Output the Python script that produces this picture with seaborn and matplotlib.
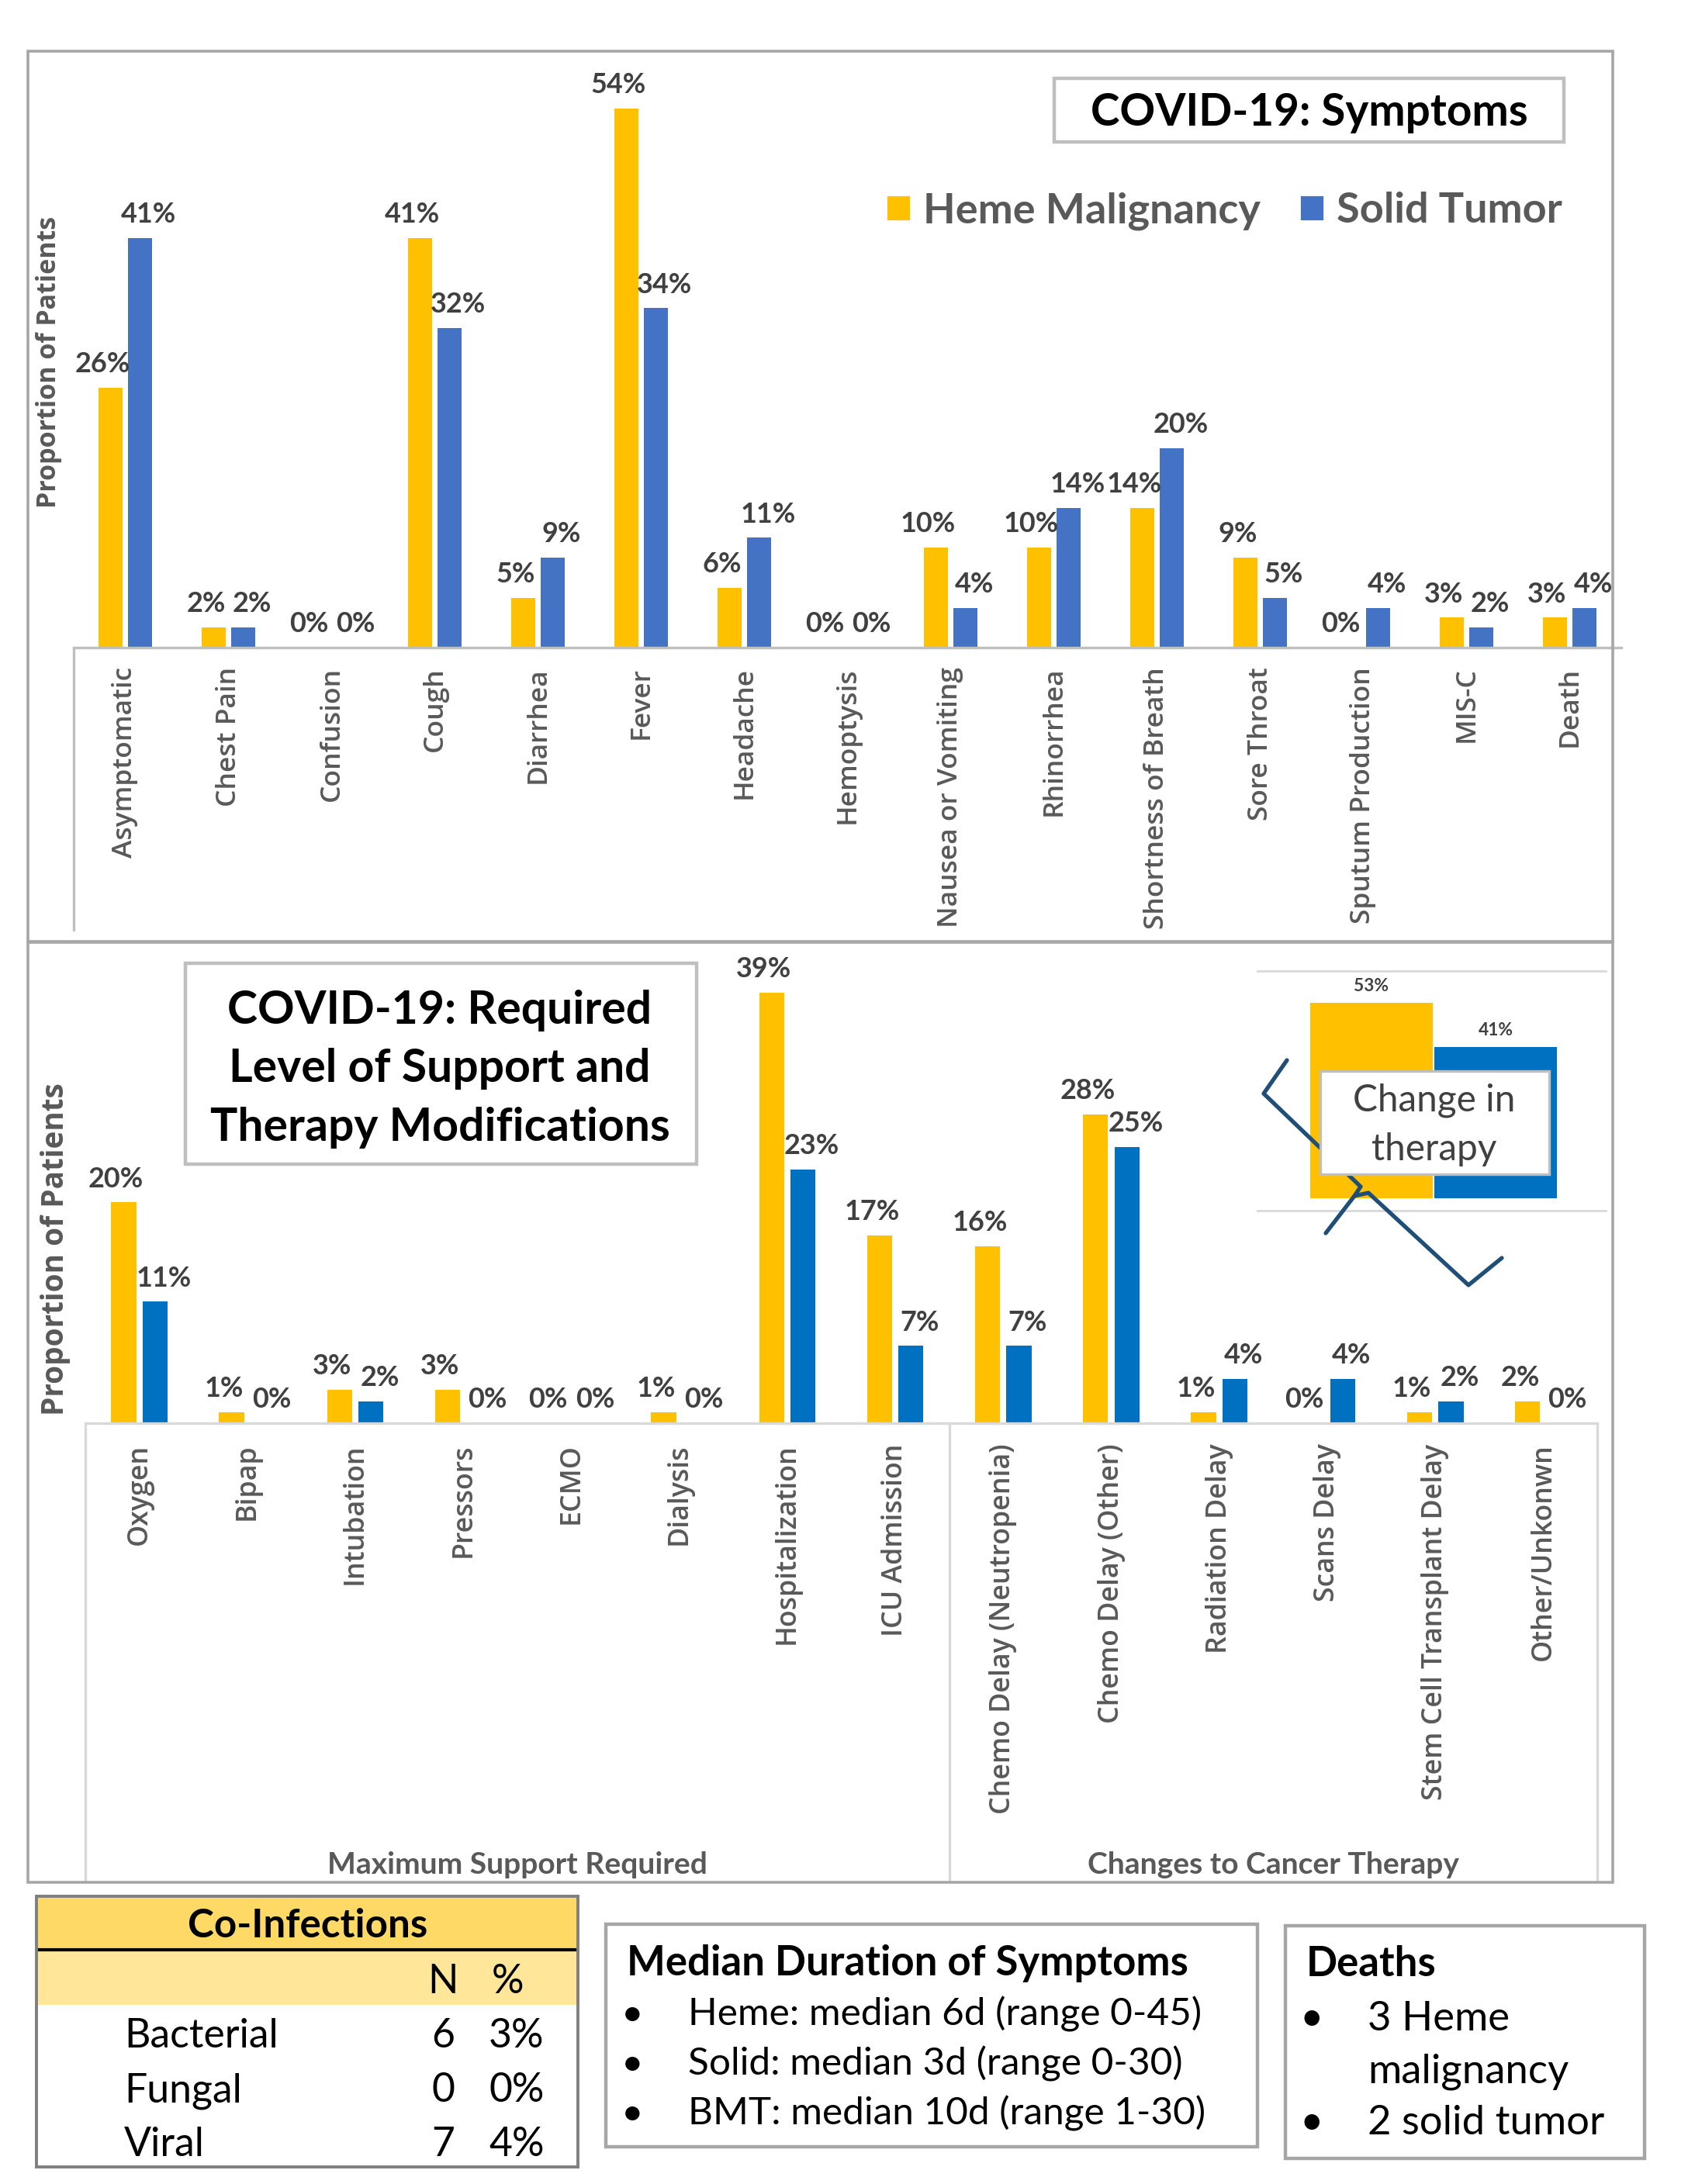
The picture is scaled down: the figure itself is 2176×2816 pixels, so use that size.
import matplotlib
matplotlib.use("Agg")
import matplotlib.pyplot as plt
from matplotlib.patches import Rectangle, Patch
from matplotlib.lines import Line2D
from matplotlib.transforms import blended_transform_factory
import seaborn as sns
import pandas as pd

# ---------------- data ----------------
symptom_categories = ["Asymptomatic", "Chest Pain", "Confusion", "Cough", "Diarrhea", "Fever",
                      "Headache", "Hemoptysis", "Nausea or Vomiting", "Rhinorrhea",
                      "Shortness of Breath", "Sore Throat", "Sputum Production", "MIS-C", "Death"]
symptom_heme = [26, 2, 0, 41, 5, 54, 6, 0, 10, 10, 14, 9, 0, 3, 3]
symptom_solid = [41, 2, 0, 32, 9, 34, 11, 0, 4, 14, 20, 5, 4, 2, 4]

support_categories = ["Oxygen", "Bipap", "Intubation", "Pressors", "ECMO", "Dialysis",
                      "Hospitalization", "ICU Admission", "Chemo Delay (Neutropenia)",
                      "Chemo Delay (Other)", "Radiation Delay", "Scans Delay",
                      "Stem Cell Transplant Delay", "Other/Unkonwn"]
support_heme = [20, 1, 3, 3, 0, 1, 39, 17, 16, 28, 1, 0, 1, 2]
support_solid = [11, 0, 2, 0, 0, 0, 23, 7, 7, 25, 4, 4, 2, 0]
support_groups = ["Maximum Support Required", "Changes to Cancer Therapy"]
support_group_sizes = [8, 6]

series_names = ["Heme Malignancy", "Solid Tumor"]
therapy_change_values = [53, 41]

coinf_types = ["Bacterial", "Fungal", "Viral"]
coinf_n = [6, 0, 7]
coinf_pct = [3, 0, 4]

duration_lines = ["Heme: median 6d (range 0-45)", "Solid: median 3d (range 0-30)",
                  "BMT: median 10d (range 1-30)"]
death_items = [["3 Heme", "malignancy"], ["2 solid tumor"]]

# ---------------- styles ----------------
YEL = "#FFC000"
BLUE_TOP = "#4472C4"
BLUE_BOT = "#0070C0"
GRAY_TXT = "#595959"
LAB_TXT = "#404040"
BORDER = "#A6A6A6"

sns.set_style("white")
plt.rcParams["font.family"] = ["Lato", "DejaVu Sans"]

W, H, DPI = 2176, 2816, 200
fig = plt.figure(figsize=(W / DPI, H / DPI), dpi=DPI)
fig.patch.set_facecolor("white")
renderer = fig.canvas.get_renderer()


def fx(x):
    return x / W


def fy(y):
    return 1 - y / H


def rect(x0, y0, x1, y1):
    return [fx(x0), fy(y1), (x1 - x0) / W, (y1 - y0) / H]


def fit(s, target, **kw):
    t = fig.text(0, 0, s, fontsize=20, **kw)
    w = t.get_window_extent(renderer).width
    t.remove()
    return 20 * target / w


def fig_line(xs, ys, color, lw, z=1):
    fig.add_artist(Line2D([fx(x) for x in xs], [fy(y) for y in ys],
                          transform=fig.transFigure, color=color, lw=lw, zorder=z,
                          solid_capstyle="butt"))


def fig_box(x0, y0, x1, y1, ec, lw, fc="none", z=1):
    fig.add_artist(Rectangle((fx(x0), fy(y1)), (x1 - x0) / W, (y1 - y0) / H,
                             transform=fig.transFigure, ec=ec, fc=fc, lw=lw, zorder=z))


# panel borders
fig_box(36, 66, 2079, 1214, BORDER, 1.3)
fig_box(36, 1215, 2079, 2427, BORDER, 1.3)

lab_fs = fit("54%", 71, family="Lato", weight="bold")
label_dx = [-3.5, 4.0]   # horizontal nudge (points) of value labels per series


def bar_chart(ax, cats, heme, solid, blue):
    df = pd.DataFrame({
        "category": cats * 2,
        "value": [v / 100 for v in heme] + [v / 100 for v in solid],
        "group": [series_names[0]] * len(cats) + [series_names[1]] * len(cats),
    })
    sns.barplot(data=df, x="category", y="value", hue="group", order=cats,
                hue_order=series_names, palette=[YEL, blue], width=0.58, gap=0.2,
                errorbar=None, legend=False, ax=ax, linewidth=0, saturation=1)
    for c, dx in zip(ax.containers, label_dx):
        anns = ax.bar_label(c, labels=[f"{round(v * 100)}%" for v in c.datavalues],
                            padding=5, fontsize=lab_fs, fontweight="bold", color=LAB_TXT,
                            family="Lato")
        for a in anns:
            a.xyann = (dx, a.xyann[1])
    ax.set_xlabel("")
    ax.set_ylabel("")
    ax.set_yticks([])
    ax.patch.set_visible(False)
    for s in ["top", "right", "left"]:
        ax.spines[s].set_visible(False)
    ax.spines["bottom"].set_color("#BFBFBF")
    ax.spines["bottom"].set_linewidth(1.2)
    ax.set_xlim(-0.5, len(cats) - 0.5)


# ---------------- top chart ----------------
ax1 = fig.add_axes(rect(95, 70, 2090, 835))
bar_chart(ax1, symptom_categories, symptom_heme, symptom_solid, BLUE_TOP)
ax1.set_ylim(0, 765 / 1287)
tick_fs1 = fit("Nausea or Vomiting", 336, family="Open Sans", weight="semibold")
ax1.tick_params(axis="x", length=0, pad=9.0)
for lbl in ax1.get_xticklabels():
    lbl.set_rotation(90)
    lbl.set_fontsize(tick_fs1)
    lbl.set_family("Open Sans")
    lbl.set_fontweight("semibold")
    lbl.set_color(GRAY_TXT)
    lbl.set_va("top")
tr1 = blended_transform_factory(ax1.transData, fig.transFigure)
ax1.add_line(Line2D([-0.5, -0.5], [fy(835), fy(1199)], transform=tr1, color="#BFBFBF",
                    lw=1.2, clip_on=False))

ylab_fs1 = fit("Proportion of Patients", 377, family="Open Sans", weight="bold")
fig.text(fx(63), fy(467), "Proportion of Patients", rotation=90, ha="center", va="center",
         fontsize=ylab_fs1, family="Open Sans", weight="bold", color=GRAY_TXT)

# title box
fig_box(1359, 101, 2016, 183, "#BFBFBF", 1.6, fc="white", z=2)
t_fs = fit("COVID-19: Symptoms", 564, family="Lato", weight="bold")
fig.text(fx(1688), fy(146), "COVID-19: Symptoms", ha="center", va="center",
         fontsize=t_fs, weight="bold", color="black", zorder=3)

# legend
leg_fs = fit("Heme Malignancy", 436, family="Lato", weight="bold")
fpx = leg_fs * DPI / 72
handles = [Patch(facecolor=YEL), Patch(facecolor=BLUE_TOP)]
fig.legend(handles, series_names, loc="center left", bbox_to_anchor=(fx(1142), fy(272)),
           ncol=2, frameon=False, labelcolor=GRAY_TXT,
           prop={"family": "Lato", "weight": "bold", "size": leg_fs},
           handlelength=32 / fpx, handleheight=32 / fpx, handletextpad=16 / fpx,
           columnspacing=50 / fpx, borderpad=0, borderaxespad=0)

# ---------------- bottom chart ----------------
ax2 = fig.add_axes(rect(110, 1225, 2059, 1835))
bar_chart(ax2, support_categories, support_heme, support_solid, BLUE_BOT)
ax2.set_ylim(0, 610 / 1423)
ax2.spines["bottom"].set_color("#D9D9D9")
tick_fs2 = fit("Hospitalization", 259, family="Open Sans", weight="semibold")
ax2.tick_params(axis="x", length=0, pad=9.5)
for lbl in ax2.get_xticklabels():
    lbl.set_rotation(90)
    lbl.set_fontsize(tick_fs2)
    lbl.set_family("Open Sans")
    lbl.set_fontweight("semibold")
    lbl.set_color(GRAY_TXT)
    lbl.set_va("top")
tr2 = blended_transform_factory(ax2.transData, fig.transFigure)
edges = [-0.5]
for n in support_group_sizes:
    edges.append(edges[-1] + n)
for e in edges:
    ax2.add_line(Line2D([e, e], [fy(1835), fy(2425)], transform=tr2, color="#D9D9D9",
                        lw=1.2, clip_on=False))
grp_fs = fit("Maximum Support Required", 490, family="Lato", weight="bold")
for i, g in enumerate(support_groups):
    cx = (edges[i] + edges[i + 1]) / 2
    ax2.text(cx, fy(2404), g, transform=tr2, ha="center", va="center", fontsize=grp_fs,
             weight="bold", color=GRAY_TXT)

ylab_fs2 = fit("Proportion of Patients", 429, family="Open Sans", weight="bold")
fig.text(fx(72), fy(1611), "Proportion of Patients", rotation=90, ha="center", va="center",
         fontsize=ylab_fs2, family="Open Sans", weight="bold", color=GRAY_TXT)

# bottom title box
fig_box(239, 1242, 898, 1501, "#BFBFBF", 1.6, fc="white", z=2)
bt_fs = fit("Therapy Modifications", 592, family="Lato", weight="bold")
for s, y in zip(["COVID-19: Required", "Level of Support and", "Therapy Modifications"],
                [1303, 1378, 1454]):
    fig.text(fx(567), fy(y), s, ha="center", va="center", fontsize=bt_fs, weight="bold",
             color="black", zorder=3)

# ---------------- inset: change in therapy ----------------
ax3 = fig.add_axes(rect(1621, 1252, 2070, 1561))
ax3.set_zorder(2)
df3 = pd.DataFrame({"group": series_names, "value": [v / 100 for v in therapy_change_values]})
sns.barplot(data=df3, x="group", y="value", hue="group", hue_order=series_names,
            palette=[YEL, BLUE_BOT], dodge=False, width=0.99, errorbar=None, legend=False,
            ax=ax3, linewidth=0, saturation=1)
ax3.set_ylim(-16 / 476, 293 / 476)
ax3.set_xlim(-147 / 160, 1 + 142 / 160)
ax3.set_xticks([])
ax3.set_yticks([])
ax3.set_xlabel("")
ax3.set_ylabel("")
ax3.patch.set_visible(False)
for s in ["left", "right"]:
    ax3.spines[s].set_visible(False)
for s in ["top", "bottom"]:
    ax3.spines[s].set_color("#D9D9D9")
    ax3.spines[s].set_linewidth(1.0)
small_fs = fit("53%", 45, family="Lato", weight="bold")
for c in ax3.containers:
    ax3.bar_label(c, labels=[f"{round(v * 100)}%" for v in c.datavalues], padding=4,
                  fontsize=small_fs, fontweight="bold", color=LAB_TXT)

# scribble brace
brace_a = [(1659, 1367), (1629, 1410), (1754, 1530), (1746, 1542), (1709, 1590)]
brace_b = [(1746, 1542), (1764, 1538), (1893, 1657), (1936, 1622)]
for pts in (brace_a, brace_b):
    fig.add_artist(Line2D([fx(p[0]) for p in pts], [fy(p[1]) for p in pts],
                          transform=fig.transFigure, color="#1F4E79", lw=1.9, zorder=5,
                          solid_joinstyle="round", solid_capstyle="round"))
fig_box(1702, 1381, 1997, 1514, "#BFBFBF", 1.2, fc="white", z=6)
ch_fs = fit("Change in", 209, family="Lato")
for s, y in zip(["Change in", "therapy"], [1419, 1482]):
    fig.text(fx(1849), fy(y), s, ha="center", va="center", fontsize=ch_fs, color=LAB_TXT,
             zorder=7)

# ---------------- co-infections table ----------------
fig_box(47, 2447, 745, 2512, "none", 0, fc="#FFD966", z=1)
fig_box(47, 2515, 745, 2585, "none", 0, fc="#FFE699", z=1)
fig_line([47, 745], [2514, 2514], "black", 1.5, z=2)
fig_box(47, 2445, 745, 2794, "#7F7F7F", 1.4, z=3)
ci_fs = fit("Co-Infections", 309, family="Lato", weight="bold")
fig.text(fx(397), fy(2484), "Co-Infections", ha="center", va="center", fontsize=ci_fs,
         weight="bold", color="black")
row_fs = fit("Bacterial", 199, family="Lato")
fig.text(fx(571), fy(2555), "N", ha="center", va="center", fontsize=row_fs, color="black")
fig.text(fx(655), fy(2555), "%", ha="center", va="center", fontsize=row_fs, color="black")
for i, (nm, n, p) in enumerate(zip(coinf_types, coinf_n, coinf_pct)):
    y = 2626 + 70 * i
    fig.text(fx(160), fy(y), nm, ha="left", va="center", fontsize=row_fs, color="black")
    fig.text(fx(571), fy(y), f"{n}", ha="center", va="center", fontsize=row_fs, color="black")
    fig.text(fx(666), fy(y), f"{p}%", ha="center", va="center", fontsize=row_fs, color="black")

# ---------------- median duration ----------------
fig_box(781, 2481, 1621, 2768, BORDER, 1.6, fc="white", z=1)
md_fs = fit("Median Duration of Symptoms", 722, family="Lato", weight="bold")
fig.text(fx(808), fy(2532), "Median Duration of Symptoms", ha="left", va="center",
         fontsize=md_fs, weight="bold", color="black", zorder=3)
ln_fs = fit(duration_lines[0], 661, family="Lato")
for i, s in enumerate(duration_lines):
    y = 2597 + 64 * i
    fig.text(fx(815), fy(y), "\u2022", ha="center", va="center", fontsize=ln_fs, color="black",
             zorder=3)
    fig.text(fx(887), fy(y), s, ha="left", va="center", fontsize=ln_fs, color="black", zorder=3)

# ---------------- deaths ----------------
fig_box(1657, 2483, 2120, 2783, BORDER, 1.6, fc="white", z=1)
fig.text(fx(1684), fy(2532), "Deaths", ha="left", va="center", fontsize=md_fs, weight="bold",
         color="black", zorder=3)
d_fs = fit("2 solid tumor", 305, family="Lato")
y = 2604
for item in death_items:
    fig.text(fx(1691), fy(y), "\u2022", ha="center", va="center", fontsize=d_fs, color="black",
             zorder=3)
    for s in item:
        fig.text(fx(1763), fy(y), s, ha="left", va="center", fontsize=d_fs, color="black",
                 zorder=3)
        y += 67

fig.savefig("out.png", dpi=DPI, facecolor="white")
